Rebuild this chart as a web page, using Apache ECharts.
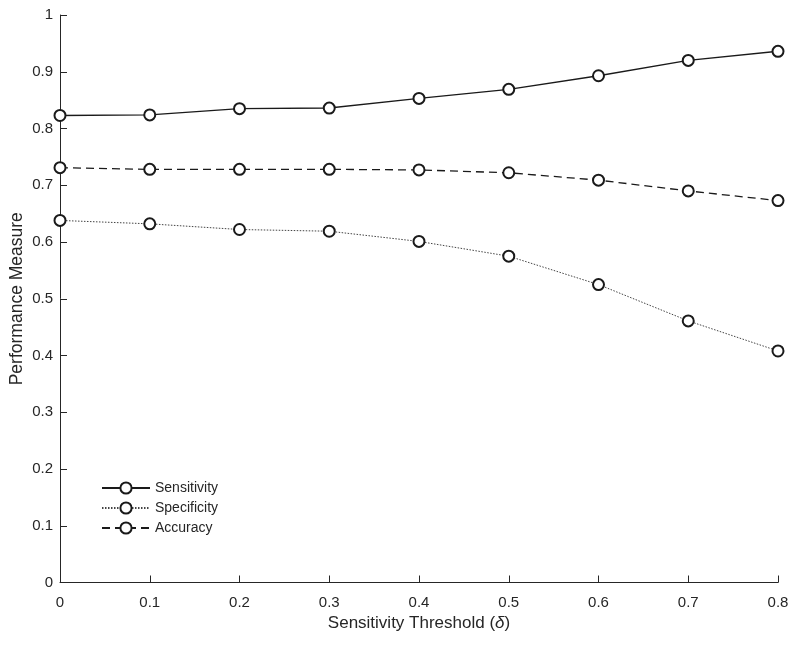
<!DOCTYPE html>
<html>
<head>
<meta charset="utf-8">
<script src="https://cdn.jsdelivr.net/npm/echarts@6/dist/echarts.min.js"></script>
<style>html,body{margin:0;padding:0;background:#fff;}#c{width:800px;height:646px;}</style>
</head>
<body>
<div id="c"></div>
<script>
const thresholds = [0, 0.1, 0.2, 0.3, 0.4, 0.5, 0.6, 0.7, 0.8];
const sensitivity = [0.823, 0.824, 0.835, 0.836, 0.853, 0.869, 0.893, 0.920, 0.936];
const specificity = [0.638, 0.632, 0.622, 0.619, 0.601, 0.575, 0.525, 0.461, 0.408];
const accuracy = [0.731, 0.728, 0.728, 0.728, 0.727, 0.722, 0.709, 0.690, 0.673];
const seriesNames = ['Sensitivity', 'Specificity', 'Accuracy'];

const txt = '#262626';
const font = '"Liberation Sans", Arial, sans-serif';
function pairs(v) { return thresholds.map((x, i) => [x, v[i]]); }

const chart = echarts.init(document.getElementById('c'), null, {renderer: 'canvas'});
const common = {
  type: 'line', symbol: 'emptyCircle', symbolSize: 11, showSymbol: true,
  animation: false, z: 3
};
const mk = {color: '#1a1a1a', borderColor: '#1a1a1a', borderWidth: 1.2};
chart.setOption({
  backgroundColor: '#ffffff',
  animation: false,
  textStyle: {fontFamily: font, color: txt},
  grid: {left: 60, right: 22, top: 15, bottom: 63.5, containLabel: false, outerBoundsMode: 'none'},
  legend: {
    orient: 'vertical', left: 96, top: 476, itemWidth: 48, itemHeight: 14, itemGap: 6,
    textStyle: {fontFamily: font, fontSize: 14, color: txt},
    data: seriesNames
  },
  xAxis: {
    type: 'value', min: 0, max: 0.8, interval: 0.1,
    name: 'Sensitivity Threshold ({i|δ})', nameLocation: 'middle', nameGap: 32, nameMoveOverlap: false,
    nameTextStyle: {fontFamily: font, fontSize: 17, color: txt, rich: {i: {fontStyle: 'italic', fontFamily: font, fontSize: 17, color: txt}}},
    axisLine: {show: true, lineStyle: {color: txt, width: 1}},
    axisTick: {show: true, inside: true, length: 7, lineStyle: {color: txt}},
    axisLabel: {fontFamily: font, fontSize: 15, color: txt, margin: 13},
    splitLine: {show: false}
  },
  yAxis: {
    type: 'value', min: 0, max: 1, interval: 0.1,
    name: 'Performance Measure', nameLocation: 'middle', nameGap: 34, nameMoveOverlap: false,
    nameTextStyle: {fontFamily: font, fontSize: 17.5, color: txt},
    axisLine: {show: true, lineStyle: {color: txt, width: 1}},
    axisTick: {show: true, inside: true, length: 7, lineStyle: {color: txt}},
    axisLabel: {fontFamily: font, fontSize: 15, color: txt, margin: 7},
    splitLine: {show: false}
  },
  series: [
    Object.assign({}, common, {
      name: seriesNames[0], data: pairs(sensitivity),
      lineStyle: {color: '#1a1a1a', width: 1.4, type: 'solid'},
      itemStyle: mk
    }),
    Object.assign({}, common, {
      name: seriesNames[1], data: pairs(specificity),
      lineStyle: {color: '#444444', width: 1, type: [1.5, 1.5]},
      itemStyle: mk
    }),
    Object.assign({}, common, {
      name: seriesNames[2], data: pairs(accuracy),
      lineStyle: {color: '#1a1a1a', width: 1.3, type: [8, 5]},
      itemStyle: mk
    })
  ]
});
</script>
</body>
</html>
